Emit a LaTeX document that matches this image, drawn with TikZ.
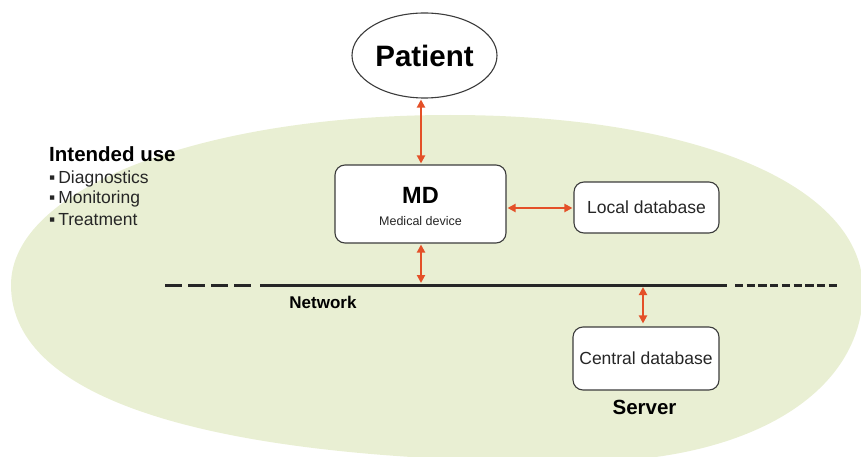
\documentclass[tikz,border=0pt]{standalone}
\usepackage{fontspec}
\setmainfont{Liberation Sans}
\usetikzlibrary{arrows.meta,shapes.geometric}
\definecolor{bg}{RGB}{233,239,211}
\definecolor{arr}{RGB}{228,80,40}
\definecolor{edge}{RGB}{60,60,60}
\tikzset{
 box/.style={draw=edge, line width=1.1pt, fill=white, rounded corners=10pt, inner sep=0pt},
 biarrow/.style={draw=arr, line width=2.2pt, {Triangle[length=8pt,width=8pt]}-{Triangle[length=8pt,width=8pt]}},
 netline/.style={line width=3pt, draw=black!85},
 reg/.style={font=\fontsize{17.5}{20}\selectfont, text=black!85, inner sep=0pt},
 bold/.style={font=\bfseries, text=black, inner sep=0pt},
}
\begin{document}
\begin{tikzpicture}[x=1pt,y=-1pt]
\useasboundingbox (0,0) rectangle (861,457);
\begin{scope}
\clip (0,0) rectangle (861,457);
\fill[bg] (11,285) .. controls (11,189) and (200,115) .. (450,115)
 .. controls (695,115) and (863,185) .. (863,290)
 .. controls (863,393) and (750,462) .. (580,462)
 .. controls (210,462) and (11,400) .. cycle;
\end{scope}

% patient
\node[draw=edge, line width=1.1pt, fill=white, ellipse, minimum width=145pt, minimum height=85pt, inner sep=0pt, font=\fontsize{29.5}{30}\selectfont\bfseries] (patient) at (424.5,55.5) {Patient};

% medical device
\node[box, minimum width=171pt, minimum height=78pt] (md) at (420.5,204) {};
\node[bold, anchor=base, font=\fontsize{23.5}{24}\selectfont\bfseries] (mdt) at (420.5,203) {MD};
\node[reg, anchor=base, font=\fontsize{12.5}{14}\selectfont] (mdd) at (420.5,225) {Medical device};

\node[box, reg, minimum width=145pt, minimum height=51pt] (ldb) at (646.5,207.5) {Local database};
\node[box, reg, minimum width=146pt, minimum height=63pt] (cdb) at (646,358.5) {Central database};

% network
\coordinate (nl0) at (165,285);
\coordinate (nl1) at (252,285);
\coordinate (ns0) at (260,285);
\coordinate (ns1) at (727,285);
\coordinate (nr0) at (735,285);
\coordinate (nr1) at (838,285);
\draw[netline, dash pattern=on 17pt off 6pt] (nl0) -- (nl1);
\draw[netline] (ns0) -- (ns1);
\draw[netline, dash pattern=on 8.3pt off 3.4pt] (nr0) -- (nr1);

\node[bold, font=\fontsize{17}{18}\selectfont\bfseries] (net) at (323,302) {Network};
\node[bold, font=\fontsize{20.5}{22}\selectfont\bfseries] (srv) at (644.5,407) {Server};

% intended use
\node[bold, anchor=base west, font=\fontsize{20.5}{22}\selectfont\bfseries] (iu) at (49,161) {Intended use};
\node[reg, anchor=base west] (b1) at (49,183) {▪\,Diagnostics};
\node[reg, anchor=base west] (b2) at (49,204) {▪\,Monitoring};
\node[reg, anchor=base west] (b3) at (49,225) {▪\,Treatment};

% connectors
\draw[biarrow, shorten <=1pt, shorten >=1pt] (md.north -| 421,0) -- (patient.south -| 421,0);
\draw[biarrow, shorten <=1pt, shorten >=1pt] (md.east |- 0,208) -- (ldb.west |- 0,208);
\draw[biarrow, shorten <=1pt, shorten >=2pt] (md.south -| 421,0) -- (ns0 -| 421,0);
\draw[biarrow, shorten <=2pt, shorten >=3pt] (ns1 -| 643,0) -- (cdb.north -| 643,0);
\end{tikzpicture}
\end{document}
